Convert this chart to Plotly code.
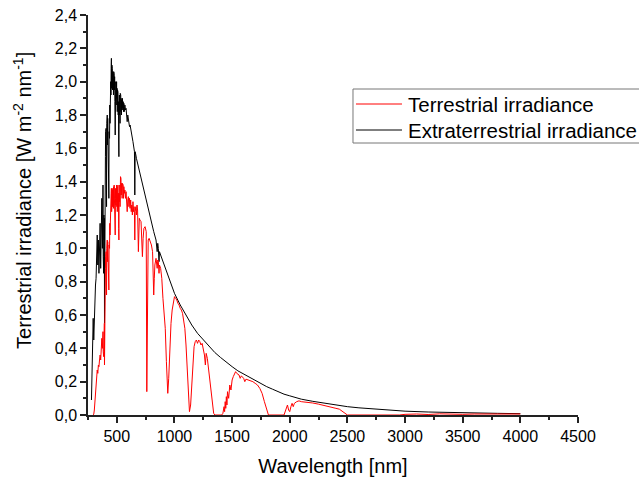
import plotly.graph_objects as go

# Extraterrestrial irradiance (black)
etr_wl = [280, 285, 290, 295, 300, 305, 310, 315, 320, 325, 330, 335, 340, 345, 350, 355, 360, 365, 370, 375,
          380, 382, 384, 386, 388, 390, 392, 393, 394, 396, 397, 399, 401, 403, 405, 407, 409, 411, 413, 415,
          417, 419, 421, 423, 425, 427, 429, 431, 433, 435, 437, 439, 441, 443, 445, 447, 449, 451, 453, 455,
          457, 459, 461, 463, 465, 467, 469, 471, 473, 475, 477, 479, 481, 483, 486, 488, 490, 492, 494, 496,
          498, 500, 502, 504, 506, 508, 510, 512, 514, 516, 518, 520, 522, 524, 526, 528, 530, 532, 534, 536,
          538, 540, 543, 546, 549, 552, 555, 558, 561, 565, 570, 575, 580, 585, 590, 595, 600, 605, 610, 615,
          620, 630, 640, 650, 653, 656, 659, 665, 670, 680, 690, 700, 710, 720, 740, 760, 780,
          800, 820, 840, 850, 855, 860, 866, 870, 880, 900, 920, 940, 960, 980, 1000, 1050, 1100, 1150, 1200, 1250,
          1300, 1350, 1400, 1450, 1500, 1550, 1600, 1650, 1700, 1750, 1800, 1850, 1900, 1950, 2000, 2100, 2200, 2300, 2400, 2500,
          2600, 2700, 2800, 2900, 3000, 3200, 3400, 3600, 3800, 4000]
etr_val = [0.09, 0.25, 0.48, 0.58, 0.45, 0.62, 0.70, 0.78, 0.82, 0.98, 1.08, 0.90, 1.05, 0.85, 1.08, 1.15, 0.88, 1.20, 1.30, 1.00,
           1.38, 0.95, 1.15, 0.85, 1.20, 1.05, 1.18, 0.55, 1.10, 0.95, 0.62, 1.30, 1.55, 1.70, 1.48, 1.72, 1.60, 1.25, 1.75, 1.68,
           1.80, 1.62, 1.78, 1.70, 1.76, 1.58, 1.40, 1.30, 1.70, 1.82, 1.66, 1.86, 1.75, 1.94, 1.85, 2.00, 1.92, 2.08, 2.14, 1.96,
           2.10, 2.02, 2.08, 1.95, 2.06, 1.98, 2.04, 1.92, 2.06, 1.97, 2.05, 1.95, 2.03, 1.88, 1.68, 1.95, 2.00, 1.88, 1.98, 1.90,
           2.00, 1.86, 1.96, 1.82, 1.95, 1.88, 1.94, 1.80, 1.88, 1.65, 1.55, 1.86, 1.92, 1.80, 1.90, 1.75, 1.93, 1.88, 1.92, 1.82,
           1.90, 1.80, 1.89, 1.84, 1.90, 1.83, 1.88, 1.82, 1.87, 1.82, 1.86, 1.83, 1.84, 1.80, 1.76, 1.80, 1.78, 1.75, 1.73, 1.74,
           1.71, 1.68, 1.64, 1.60, 1.58, 1.32, 1.58, 1.56, 1.54, 1.51, 1.48, 1.45, 1.42, 1.38, 1.33, 1.28, 1.22,
           1.16, 1.10, 1.05, 0.98, 1.03, 1.00, 0.92, 0.98, 0.96, 0.92, 0.88, 0.84, 0.80, 0.77, 0.73, 0.66, 0.60, 0.54, 0.49, 0.45,
           0.41, 0.375, 0.345, 0.315, 0.29, 0.265, 0.245, 0.225, 0.205, 0.185, 0.17, 0.155, 0.14, 0.125, 0.115, 0.095, 0.082, 0.070, 0.060, 0.050,
           0.043, 0.037, 0.032, 0.027, 0.023, 0.018, 0.014, 0.011, 0.010, 0.008]

# Terrestrial irradiance (red)
terr_wl = [295, 300, 305, 310, 315, 320, 325, 330, 335, 340, 345, 350, 355, 360, 365, 370, 375,
           380, 382, 384, 386, 388, 390, 392, 393, 394, 396, 397, 399, 401, 403, 405, 407, 409, 411, 413, 415,
           417, 419, 421, 423, 425, 427, 429, 431, 433, 435, 437, 439, 441, 443, 445, 447, 449, 451, 453, 455,
           457, 459, 461, 463, 465, 467, 469, 471, 473, 475, 477, 479, 481, 483, 486, 488, 490, 492, 494, 496,
           498, 500, 502, 504, 506, 508, 510, 512, 514, 516, 518, 520, 522, 524, 526, 528, 530, 532, 534, 536,
           538, 540, 543, 546, 549, 552, 555, 558, 561, 565, 570, 575, 580, 585, 590, 595, 600, 605, 610, 615,
           620, 625, 630, 635, 640, 645, 650, 653, 656, 659, 665, 670, 675, 680, 687, 690, 695, 700, 710, 718,
           722, 728, 735, 745, 755, 760, 763, 767, 772, 780, 790, 800, 810, 815, 820, 825, 830, 840, 850, 855,
           860, 866, 870, 880, 890, 900, 910, 920, 930, 937, 942, 950, 960, 970, 980, 990, 1000, 1010, 1020, 1030,
           1040, 1050, 1060, 1070, 1080, 1090, 1100, 1110, 1120, 1130, 1140, 1150, 1160, 1170, 1180, 1190, 1200, 1210, 1220, 1230,
           1240, 1250, 1260, 1268, 1275, 1285, 1295, 1310, 1325, 1340, 1350, 1410, 1420, 1430, 1435, 1440, 1445, 1450, 1455, 1460,
           1470, 1480, 1490, 1500, 1510, 1520, 1530, 1540, 1560, 1570, 1580, 1600, 1610, 1620, 1640, 1660, 1680, 1700, 1720, 1740,
           1760, 1780, 1800, 1815, 1950, 1960, 1970, 1980, 1990, 2000, 2010, 2020, 2030, 2040, 2060, 2080, 2100, 2150, 2200, 2250,
           2300, 2350, 2400, 2430, 2460, 2490, 2500, 2950, 3000, 3100, 3200, 3300, 3400, 3500, 3600, 3700, 3800, 3900, 4000]
terr_val = [0.0, 0.005, 0.03, 0.08, 0.13, 0.19, 0.24, 0.27, 0.25, 0.30, 0.29, 0.33, 0.36, 0.33, 0.42, 0.46, 0.40,
            0.50, 0.38, 0.46, 0.35, 0.52, 0.45, 0.55, 0.30, 0.52, 0.45, 0.36, 0.72, 0.88, 0.95, 0.82, 0.98, 0.92, 0.72, 1.00, 0.95,
            1.05, 0.92, 1.04, 0.98, 1.03, 0.90, 0.80, 0.75, 1.02, 1.12, 1.00, 1.15, 1.08, 1.22, 1.15, 1.28, 1.20, 1.33, 1.36, 1.22,
            1.34, 1.28, 1.35, 1.25, 1.36, 1.28, 1.35, 1.24, 1.37, 1.30, 1.38, 1.28, 1.37, 1.22, 1.08, 1.30, 1.36, 1.26, 1.35, 1.28,
            1.38, 1.25, 1.37, 1.22, 1.36, 1.30, 1.38, 1.24, 1.33, 1.12, 1.05, 1.33, 1.38, 1.28, 1.38, 1.25, 1.41, 1.43, 1.38, 1.42,
            1.32, 1.39, 1.36, 1.30, 1.39, 1.33, 1.38, 1.30, 1.37, 1.33, 1.35, 1.30, 1.34, 1.28, 1.22, 1.29, 1.31, 1.25, 1.30, 1.24,
            1.29, 1.22, 1.26, 1.20, 1.28, 1.22, 1.25, 1.20, 1.05, 1.22, 1.25, 1.20, 1.26, 1.23, 0.98, 1.12, 1.18, 1.17, 1.16, 1.02,
            0.95, 1.06, 1.12, 1.13, 1.10, 0.14, 0.40, 0.85, 1.05, 1.06, 1.04, 1.02, 0.98, 0.85, 0.72, 0.82, 0.90, 0.94, 0.88, 0.93,
            0.92, 0.85, 0.90, 0.88, 0.82, 0.70, 0.60, 0.52, 0.32, 0.20, 0.13, 0.22, 0.40, 0.55, 0.63, 0.68, 0.71, 0.70, 0.69, 0.67,
            0.66, 0.64, 0.63, 0.61, 0.57, 0.52, 0.42, 0.30, 0.12, 0.02, 0.06, 0.20, 0.35, 0.41, 0.44, 0.45, 0.43, 0.45, 0.44, 0.42,
            0.43, 0.40, 0.36, 0.30, 0.37, 0.34, 0.28, 0.18, 0.08, 0.01, 0.0, 0.0, 0.01, 0.05, 0.02, 0.08, 0.04, 0.11, 0.06, 0.14,
            0.10, 0.18, 0.15, 0.21, 0.23, 0.25, 0.26, 0.25, 0.24, 0.22, 0.235, 0.22, 0.20, 0.215, 0.21, 0.205, 0.20, 0.19, 0.18, 0.16,
            0.13, 0.08, 0.03, 0.0, 0.0, 0.02, 0.05, 0.06, 0.03, 0.02, 0.05, 0.07, 0.05, 0.07, 0.08, 0.085, 0.08, 0.078, 0.072, 0.065,
            0.058, 0.05, 0.04, 0.035, 0.02, 0.005, 0.0, 0.0, 0.004, 0.006, 0.003, 0.007, 0.005, 0.004, 0.006, 0.005, 0.007, 0.004, 0.006]

x_tick_vals = [500, 1000, 1500, 2000, 2500, 3000, 3500, 4000, 4500]
y_tick_vals = [0.0, 0.2, 0.4, 0.6, 0.8, 1.0, 1.2, 1.4, 1.6, 1.8, 2.0, 2.2, 2.4]
y_tick_text = ["0,0", "0,2", "0,4", "0,6", "0,8", "1,0", "1,2", "1,4", "1,6", "1,8", "2,0", "2,2", "2,4"]

series_names = ["Terrestrial irradiance", "Extraterrestrial irradiance"]
series_colors = ["#FF0000", "#000000"]

font_family = "Liberation Sans, Arial, sans-serif"

fig = go.Figure()
fig.add_trace(go.Scatter(x=etr_wl, y=etr_val, mode="lines", name=series_names[1],
                         line=dict(color=series_colors[1], width=1), showlegend=False))
fig.add_trace(go.Scatter(x=terr_wl, y=terr_val, mode="lines", name=series_names[0],
                         line=dict(color=series_colors[0], width=1), showlegend=False))

axis_common = dict(showline=True, linecolor="#222222", linewidth=1.5, ticks="outside", ticklen=6,
                   tickwidth=1.5, tickcolor="#222222", showgrid=False, zeroline=False, mirror=False,
                   automargin=False,
                   tickfont=dict(family=font_family, size=16, color="#000000"))

# Legend drawn as a framed box with sample lines and text (paper coordinates)
shapes = [dict(type="rect", xref="paper", yref="paper", x0=0.5408, x1=1.14, y0=0.68, y1=0.815,
               line=dict(color="#777777", width=1), fillcolor="white", layer="above")]
annotations = [dict(text="Terrestrial irradiance [W m<sup>-2</sup> nm<sup>-1</sup>]",
                    xref="paper", yref="paper", x=-0.1347, y=0.5375, xanchor="center", yanchor="middle",
                    textangle=-90, showarrow=False, font=dict(size=20, family=font_family))]
legend_rows_y = [0.7775, 0.7125]
for name, color, ly in zip(series_names, series_colors, legend_rows_y):
    shapes.append(dict(type="line", xref="paper", yref="paper", x0=0.5469, x1=0.6408, y0=ly, y1=ly,
                       line=dict(color=color, width=1), layer="above"))
    annotations.append(dict(text=name, xref="paper", yref="paper", x=0.6490, y=ly, xanchor="left",
                            yanchor="middle", showarrow=False, font=dict(size=20.5, family=font_family)))

fig.update_layout(
    width=639, height=481,
    margin=dict(l=88, r=61, t=15, b=66, autoexpand=False),
    paper_bgcolor="white", plot_bgcolor="white",
    font=dict(family=font_family, color="#000000"),
    xaxis=dict(range=[250, 4500], tickvals=x_tick_vals, tickformat="d",
               minor=dict(ticks="outside", ticklen=3, tickwidth=1.5, tickcolor="#222222", dtick=250, tick0=250),
               title=dict(text="Wavelength [nm]", font=dict(size=20), standoff=15), **axis_common),
    yaxis=dict(range=[0, 2.4], tickvals=y_tick_vals, ticktext=y_tick_text,
               minor=dict(ticks="outside", ticklen=3, tickwidth=1.5, tickcolor="#222222", dtick=0.1, tick0=0),
               **axis_common),
    shapes=shapes,
    annotations=annotations,
    showlegend=False,
)

fig.write_html("out.html", config={"displayModeBar": False},
               post_script="document.body.style.margin='0px';")
